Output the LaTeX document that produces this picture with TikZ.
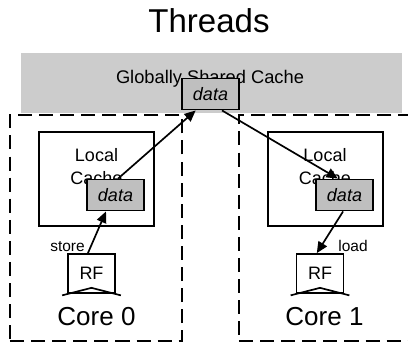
\documentclass[tikz,border=0pt]{standalone}
\usepackage{fontspec}
\setmainfont{Liberation Sans}
\usetikzlibrary{arrows.meta,calc}

\begin{document}
\begin{tikzpicture}[
  x=0.025cm, y=-0.025cm,
  cache/.style={draw, line width=1.2pt, minimum width=2.875cm, minimum height=2.35cm},
  datum/.style={draw, line width=1.2pt, fill=black!25, inner sep=0pt,
    minimum width=1.425cm, minimum height=0.78cm, font=\fontsize{12.8}{15}\selectfont\itshape},
  regfile/.style={draw, line width=1.2pt, inner sep=0pt, minimum width=1.175cm,
    minimum height=0.975cm, font=\fontsize{12.8}{15}\selectfont},
  core/.style={draw, line width=1.7pt, dash pattern=on 10pt off 5pt},
  lbl/.style={font=\fontsize{11}{13}\selectfont, anchor=base},
  clock/.style={line width=1.2pt, line join=miter},
  arrow/.style={-{Triangle[length=8pt, width=7pt]}, line width=1.2pt}
]
\clip (0,0) rectangle (408,344);

% title and shared cache
\node (title) at (209,21) {\fontsize{23.5}{28}\selectfont Threads};
\node[fill=black!20, minimum width=9.525cm, minimum height=1.5cm] (shared) at (211.5,83) {};
\node[anchor=base, font=\fontsize{13}{15}\selectfont] (sharedtxt) at (210,83) {Globally Shared Cache};

% cores
\node[core, minimum width=4.3cm, minimum height=5.65cm] (core0) at (96,228) {};
\node[core, minimum width=4.35cm, minimum height=5.65cm] (core1) at (326,228) {};

\node[datum] (topdata) at (210.5,94) {data};

% core 0
\node[cache] (lc0) at (96.5,179) {};
\node[anchor=north, inner sep=0pt, align=center, font=\fontsize{12.8}{16.3}\selectfont] (lc0txt) at (96.5,148) {Local\\Cache};
\node[datum] (data0) at (115.5,195) {data};
\node[regfile] (rf0) at (91.5,273.5) {RF};
\draw[clock] ($(rf0.south west)+(-5,1.5)$) -- ($(rf0.south)+(0,-6)$) -- ($(rf0.south east)+(5,1.5)$);
\node[lbl] (store) at (67.5,251) {store};
\node[anchor=base, font=\fontsize{18.5}{22}\selectfont] (name0) at (96.5,325) {Core 0};

% core 1
\node[cache] (lc1) at (325.5,179) {};
\node[anchor=north, inner sep=0pt, align=center, font=\fontsize{12.8}{16.3}\selectfont] (lc1txt) at (325,148) {Local\\Cache};
\node[datum] (data1) at (344.5,195) {data};
\node[regfile] (rf1) at (320,273.5) {RF};
\draw[clock] ($(rf1.south west)+(-5,1.5)$) -- ($(rf1.south)+(0,-6)$) -- ($(rf1.south east)+(5,1.5)$);
\node[lbl] (load) at (353,251) {load};
\node[anchor=base, font=\fontsize{18.5}{22}\selectfont] (name1) at (324.5,325) {Core 1};

% traffic
\draw[arrow] (rf0.100) -- (data0.240);
\draw[arrow] (data0.81) -- (topdata.228);
\draw[arrow] (topdata.305) -- (data1.112);
\draw[arrow] (data1.265) -- (rf1.99);
\end{tikzpicture}
\end{document}
